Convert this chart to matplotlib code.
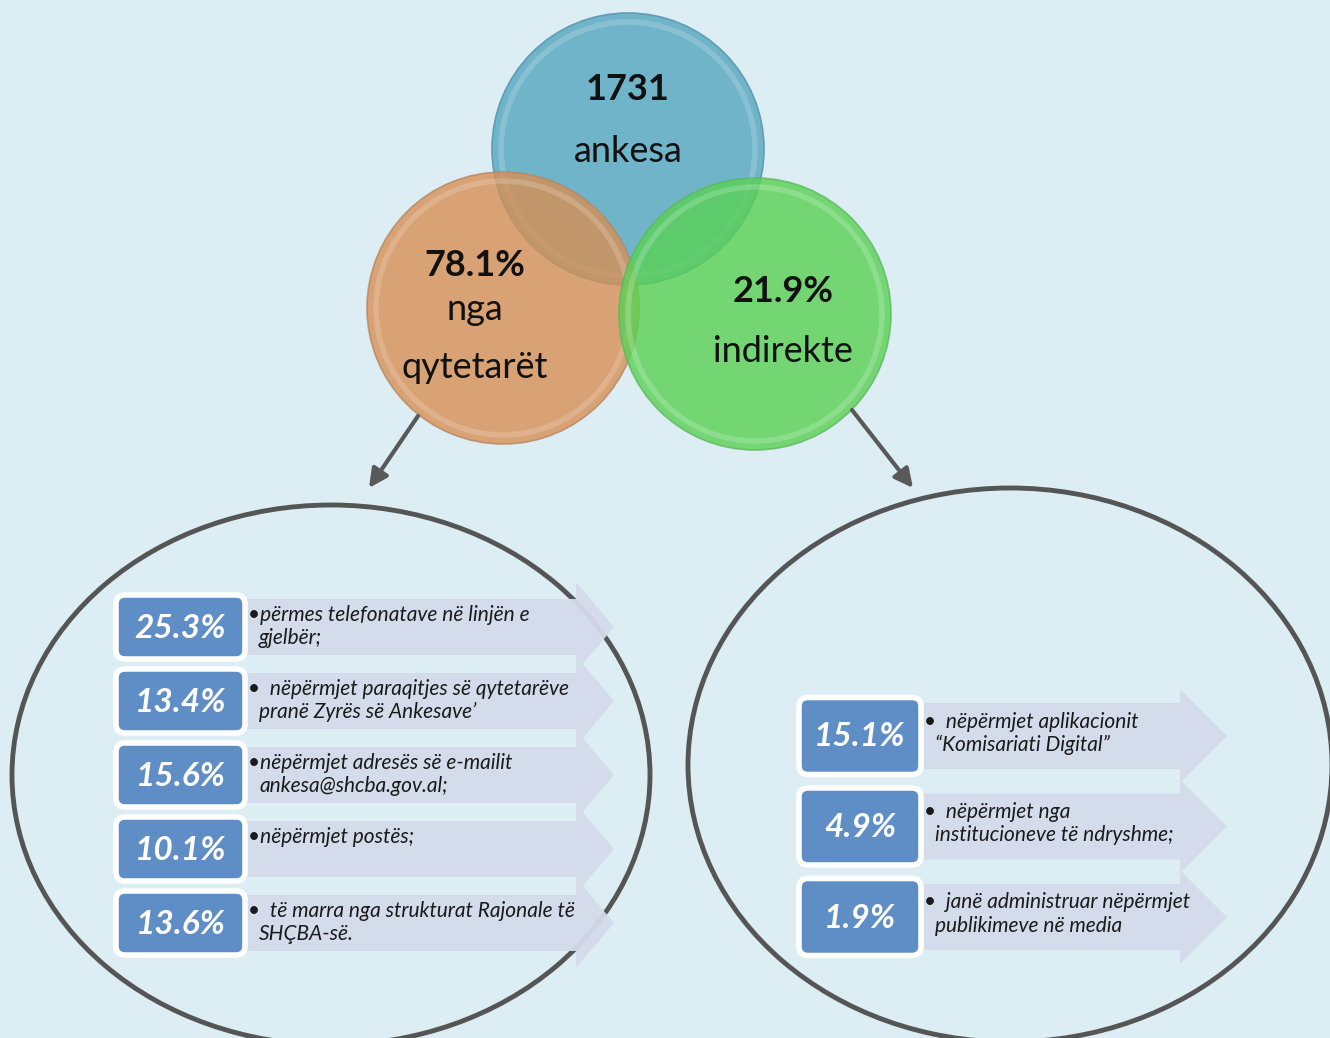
import matplotlib.pyplot as plt
from matplotlib.patches import Circle, Ellipse, FancyBboxPatch, Polygon

plt.rcParams['font.family'] = ['Lato', 'DejaVu Sans']

# top circles
circle_values = ["1731", "78.1%", "21.9%"]
circle_words = ["ankesa", "nga\nqytetarët", "indirekte"]

# complaints coming from citizens
left_pct = ["25.3%", "13.4%", "15.6%", "10.1%", "13.6%"]
left_desc = [
    ["•përmes telefonatave në linjën e", "gjelbër;"],
    ["•  nëpërmjet paraqitjes së qytetarëve", "pranë Zyrës së Ankesave’"],
    ["•nëpërmjet adresës së e-mailit", "ankesa@shcba.gov.al;"],
    ["•nëpërmjet postës;", ""],
    ["•  të marra nga strukturat Rajonale të", "SHÇBA-së."],
]

# indirect complaints
right_pct = ["15.1%", "4.9%", "1.9%"]
right_desc = [
    ["•  nëpërmjet aplikacionit", "“Komisariati Digital”"],
    ["•  nëpërmjet nga", "institucioneve të ndryshme;"],
    ["•  janë administruar nëpërmjet", "publikimeve në media"],
]

bg = '#DCEDF4'
fig = plt.figure(figsize=(13.3, 10.38), dpi=100, facecolor=bg)
ax = fig.add_axes([0, 0, 1, 1])
ax.set_xlim(0, 1330)
ax.set_ylim(1038, 0)
ax.set_aspect('equal')
ax.axis('off')
ax.set_facecolor(bg)

# venn-like circles
circ = [((628, 149), '#70B4CA', 1.0, '#5E9DB3'),
        ((503, 308), '#D78F54', 0.8, '#B88660'),
        ((755, 314), '#59D153', 0.8, '#5DB85F')]
for (c, col, a, ec) in circ:
    ax.add_patch(Circle(c, 136, fc=col, alpha=a, ec=ec, lw=1.2, zorder=2))
    ax.add_patch(Circle(c, 127, fc='none', ec='white', alpha=0.18, lw=4, zorder=2))

big = 26
ax.text(628, 90, circle_values[0], ha='center', va='center', fontsize=big,
        fontweight='bold', color='#111111', zorder=5)
ax.text(628, 152, circle_words[0], ha='center', va='center', fontsize=big,
        color='#111111', zorder=5)
ax.text(475, 265, circle_values[1], ha='center', va='center', fontsize=big,
        fontweight='bold', color='#111111', zorder=5)
w1, w2 = circle_words[1].split("\n")
ax.text(475, 310, w1, ha='center', va='center', fontsize=big, color='#111111', zorder=5)
ax.text(475, 368, w2, ha='center', va='center', fontsize=big, color='#111111', zorder=5)
ax.text(783, 292, circle_values[2], ha='center', va='center', fontsize=big,
        fontweight='bold', color='#111111', zorder=5)
ax.text(783, 352, circle_words[2], ha='center', va='center', fontsize=big,
        color='#111111', zorder=5)

# arrows down to the big ellipses
ap = dict(arrowstyle='-|>', color='#595959', lw=3, mutation_scale=28, shrinkA=0, shrinkB=0)
ax.annotate('', xy=(369, 488), xytext=(418, 416), arrowprops=ap, zorder=4)
ax.annotate('', xy=(913, 488), xytext=(852, 410), arrowprops=ap, zorder=4)

# big ellipses
ax.add_patch(Ellipse((331, 775), 638, 540, fc='none', ec='#555555', lw=3.5, zorder=1))
ax.add_patch(Ellipse((1010, 765), 644, 554, fc='none', ec='#555555', lw=3.5, zorder=1))


def row(yc, bx0, bx1, bh, ax0, ax1, tip, hh, bodyh, pct, lines):
    # chevron behind the text
    pts = [(ax0, yc - bodyh / 2), (ax1, yc - bodyh / 2), (ax1, yc - hh), (tip, yc),
           (ax1, yc + hh), (ax1, yc + bodyh / 2), (ax0, yc + bodyh / 2)]
    ax.add_patch(Polygon(pts, closed=True, fc='#D4DBEA', ec='none', alpha=0.95, zorder=2))
    ax.add_patch(FancyBboxPatch((bx0, yc - bh / 2), bx1 - bx0, bh,
                                boxstyle='round,pad=0,rounding_size=9',
                                fc='#5F8DC5', ec='white', lw=4, zorder=3))
    ax.text((bx0 + bx1) / 2, yc + 1, pct, ha='center', va='center', fontsize=24,
            fontweight='bold', fontstyle='italic', color='white', zorder=4)
    ax.text(bx1 + 3, yc - 12 - (bodyh - 56) / 4, lines[0], ha='left', va='center',
            fontsize=15, fontstyle='italic', color='#1a1a1a', zorder=4)
    ax.text(bx1 + 14, yc + 11 - (bodyh - 56) / 4, lines[1], ha='left', va='center',
            fontsize=15, fontstyle='italic', color='#1a1a1a', zorder=4)


for i, (p, d) in enumerate(zip(left_pct, left_desc)):
    yc = 627 + i * 74
    row(yc, 116, 245, 64, 245, 576, 614, 45, 56, p, d)

for i, (p, d) in enumerate(zip(right_pct, right_desc)):
    yc = 736 + i * 90.5
    row(yc, 799, 921, 77, 921, 1180, 1227, 47, 66, p, d)

fig.savefig('out.png', dpi=100, facecolor=bg)
